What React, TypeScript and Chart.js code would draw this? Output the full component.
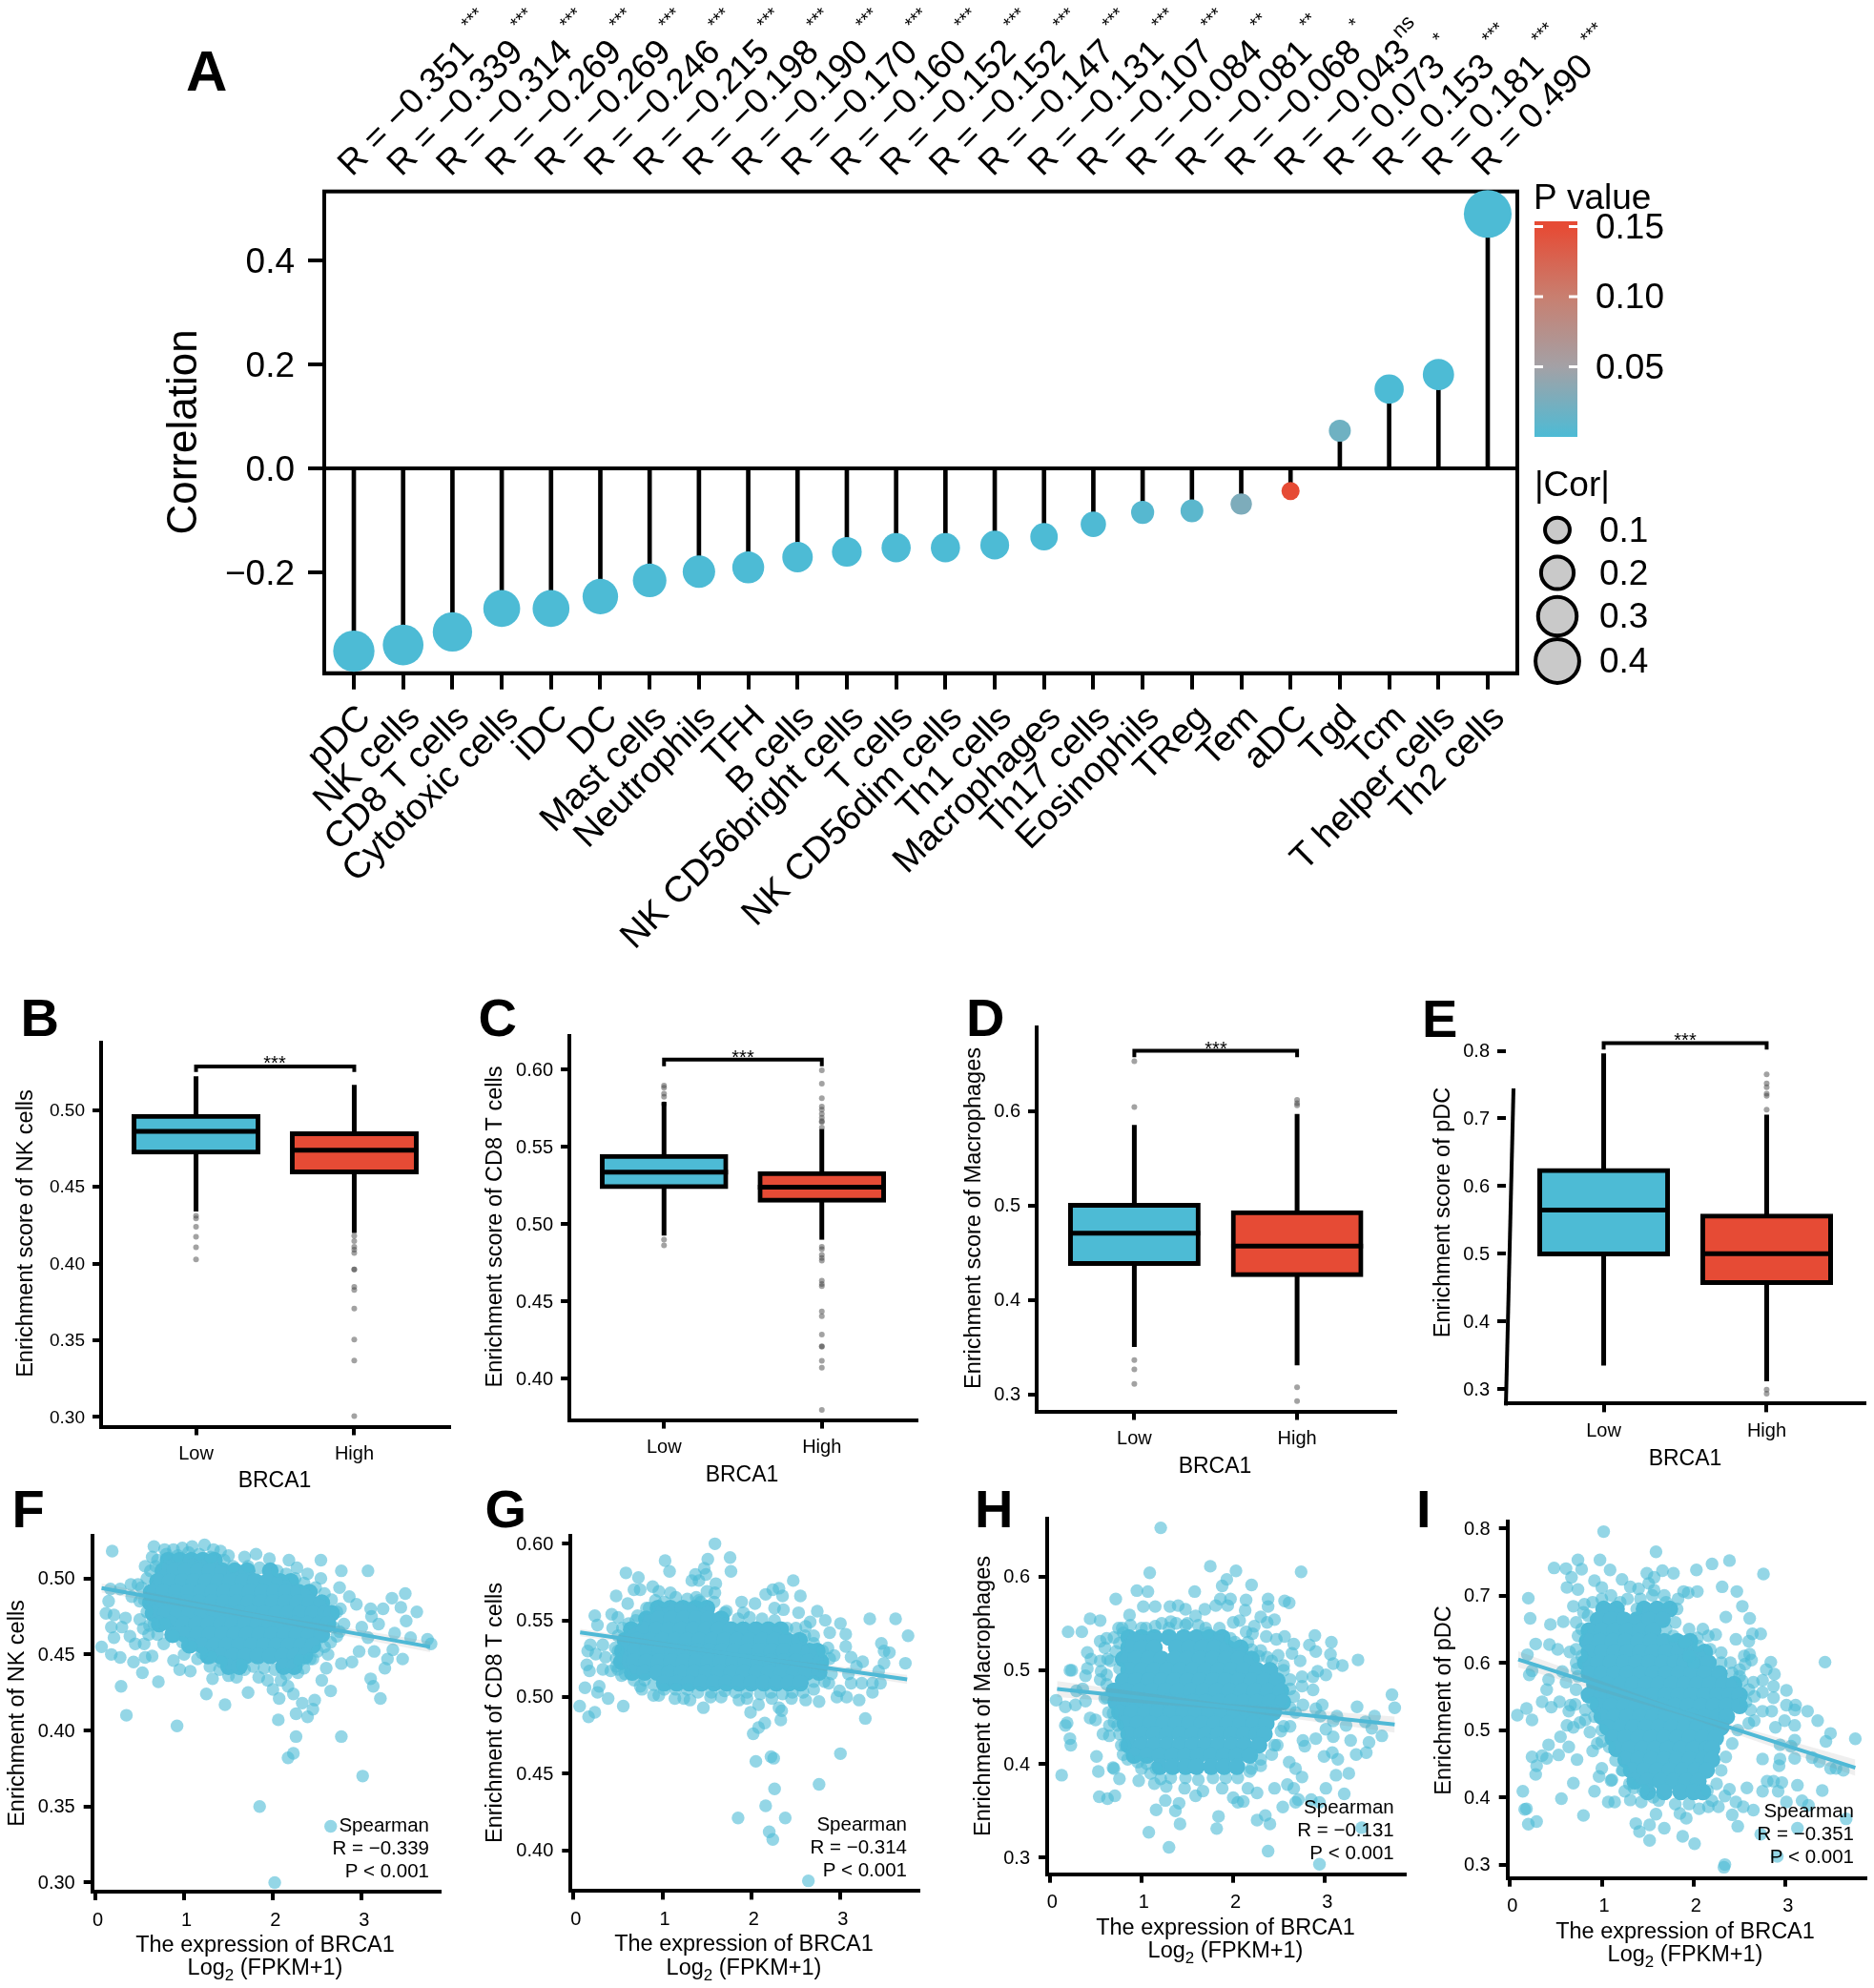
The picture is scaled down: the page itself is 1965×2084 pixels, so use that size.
import React, { useEffect, useRef } from "react";
import { Chart, registerables } from "chart.js";

Chart.register(...registerables);
Chart.defaults.font.family = '"Liberation Sans"';
Chart.defaults.color = "#000";

const BLUE = "#4DBBD5";
const RED = "#E64B35";
const CLOUD = "#4FB9D6";
const FRINGE = "rgba(77,187,213,0.6)";

// panel A
const CELLS = ["pDC", "NK cells", "CD8 T cells", "Cytotoxic cells", "iDC", "DC", "Mast cells", "Neutrophils", "TFH", "B cells", "NK CD56bright cells", "T cells", "NK CD56dim cells", "Th1 cells", "Macrophages", "Th17 cells", "Eosinophils", "TReg", "Tem", "aDC", "Tgd", "Tcm", "T helper cells", "Th2 cells"];
const CORRELATIONS = [-0.351, -0.339, -0.314, -0.269, -0.269, -0.246, -0.215, -0.198, -0.19, -0.17, -0.16, -0.152, -0.152, -0.147, -0.131, -0.107, -0.084, -0.081, -0.068, -0.043, 0.073, 0.153, 0.181, 0.49];
const SIGNIF = ["***", "***", "***", "***", "***", "***", "***", "***", "***", "***", "***", "***", "***", "***", "***", "***", "**", "**", "*", "ns", "*", "***", "***", "***"];
const P_VALUES = [0, 0, 0, 0, 0, 0, 0, 0, 0, 0, 0, 0, 0, 0, 0, 0.001, 0.005, 0.008, 0.028, 0.15, 0.02, 0, 0, 0];
const CORR_TICKS = [-0.2, 0, 0.2, 0.4];
const P_TICKS = [0.15, 0.1, 0.05];
const COR_SIZES = [0.1, 0.2, 0.3, 0.4];

// box plots: low whisker, q1, median, q3, high whisker
const GROUPS = ["Low", "High"];
const NK_LOW = [0.4339, 0.4713, 0.4862, 0.4973, 0.5221];
const NK_HIGH = [0.4199, 0.4584, 0.4738, 0.486, 0.5165];
const NK_LOW_OUT = [0.4312, 0.4294, 0.424, 0.4174, 0.4106, 0.4027];
const NK_HIGH_OUT = [0.4181, 0.4147, 0.4109, 0.409, 0.4068, 0.3962, 0.3962, 0.3848, 0.3828, 0.3706, 0.3505, 0.3367, 0.3005];
const CD8_LOW = [0.4925, 0.5228, 0.5336, 0.5451, 0.579];
const CD8_HIGH = [0.4898, 0.514, 0.5238, 0.534, 0.5614];
const CD8_LOW_OUT = [0.5896, 0.5881, 0.5843, 0.5823, 0.5775, 0.4898, 0.4862];
const CD8_HIGH_OUT = [0.5994, 0.5908, 0.5814, 0.576, 0.5739, 0.5712, 0.5687, 0.5666, 0.566, 0.5624, 0.4852, 0.4837, 0.48, 0.4779, 0.4762, 0.4633, 0.4612, 0.4597, 0.4434, 0.4403, 0.4284, 0.4209, 0.4205, 0.4115, 0.4069, 0.3797];
const MAC_LOW = [0.3502, 0.4363, 0.4705, 0.5023, 0.5853];
const MAC_HIGH = [0.3307, 0.4244, 0.4568, 0.4944, 0.5969];
const MAC_LOW_OUT = [0.6526, 0.6041, 0.3362, 0.3263, 0.3109];
const MAC_HIGH_OUT = [0.6116, 0.6082, 0.6058, 0.3075, 0.2928];
const PDC_LOW = [0.3352, 0.4971, 0.5648, 0.6262, 0.7962];
const PDC_HIGH = [0.3119, 0.4548, 0.5005, 0.559, 0.7057];
const PDC_LOW_OUT: number[] = [];
const PDC_HIGH_OUT = [0.7652, 0.7519, 0.7462, 0.7367, 0.7333, 0.7129, 0.2995, 0.2938];

// scatter clouds: the solid middle read as rows [y, xs], the separate points around it as [x, y]
const EXPR_TICKS = [0, 1, 2, 3];
const NK_CORE: [number, number[]][] = [
  [0.512, [0.82, 0.95, 1.08, 1.21, 1.34]],
  [0.505, [0.76, 0.89, 1.02, 1.16, 1.29, 1.43, 1.57, 1.71, 1.97]],
  [0.498, [0.7, 0.84, 0.98, 1.11, 1.25, 1.39, 1.52, 1.66, 1.8, 1.94, 2.08, 2.2]],
  [0.491, [0.63, 0.77, 0.91, 1.05, 1.19, 1.32, 1.46, 1.6, 1.74, 1.88, 2.02, 2.15, 2.29, 2.41]],
  [0.484, [0.62, 0.76, 0.9, 1.03, 1.17, 1.31, 1.45, 1.59, 1.73, 1.86, 2.0, 2.14, 2.28, 2.42, 2.55]],
  [0.477, [0.65, 0.79, 0.93, 1.06, 1.2, 1.34, 1.48, 1.62, 1.76, 1.9, 2.04, 2.17, 2.31, 2.45, 2.59, 2.66]],
  [0.47, [0.72, 0.86, 1.0, 1.14, 1.28, 1.42, 1.55, 1.69, 1.83, 1.97, 2.11, 2.25, 2.39, 2.52, 2.62]],
  [0.463, [0.87, 1.01, 1.15, 1.29, 1.43, 1.57, 1.71, 1.85, 1.99, 2.13, 2.27, 2.41, 2.55]],
  [0.456, [1.06, 1.2, 1.34, 1.48, 1.62, 1.76, 1.9, 2.04, 2.18, 2.32, 2.45]],
  [0.449, [1.27, 1.41, 1.55, 1.69, 1.83, 1.97, 2.11, 2.25, 2.36]],
  [0.442, [1.5, 1.62, 2.12, 2.24]],
];
const NK_POINTS: [number, number][] = [[0.19,0.518],[0.66,0.521],[1.09,0.521],[1.23,0.522],[0.78,0.519],[0.88,0.519],[0.98,0.52],[1.33,0.519],[1.41,0.518],[1.5,0.515],[1.68,0.514],[1.81,0.516],[1.96,0.513],[2.18,0.512],[2.27,0.507],[2.39,0.503],[2.54,0.512],[2.77,0.505],[3.07,0.505],[2.54,0.5],[2.75,0.494],[2.86,0.488],[2.94,0.483],[3.24,0.48],[3.34,0.487],[3.49,0.49],[3.44,0.481],[3.62,0.478],[3.5,0.472],[3.1,0.48],[3.11,0.475],[3.19,0.47],[3.37,0.464],[3.55,0.461],[3.74,0.46],[3.78,0.457],[3.0,0.468],[3.07,0.461],[3.14,0.452],[2.97,0.452],[2.89,0.445],[2.77,0.444],[3.35,0.453],[3.46,0.447],[3.29,0.447],[3.26,0.441],[3.1,0.434],[3.13,0.429],[3.21,0.421],[2.65,0.426],[2.55,0.433],[2.6,0.441],[2.47,0.42],[2.45,0.414],[2.39,0.409],[2.33,0.418],[2.26,0.411],[2.06,0.407],[2.26,0.396],[2.77,0.396],[2.23,0.385],[2.17,0.382],[3.01,0.37],[1.85,0.35],[2.02,0.3],[2.65,0.337],[0.07,0.455],[0.18,0.45],[0.28,0.448],[0.43,0.445],[0.53,0.438],[0.71,0.432],[0.29,0.429],[0.35,0.41],[0.92,0.403],[1.25,0.424],[1.46,0.417],[1.72,0.425],[0.88,0.446],[0.95,0.44],[1.07,0.439],[1.29,0.442],[1.32,0.434],[1.59,0.435],[1.84,0.435],[1.94,0.433],[2.0,0.427],[2.07,0.421],[2.23,0.424],[2.17,0.429],[2.09,0.433],[0.12,0.477],[0.15,0.485],[0.17,0.493],[0.28,0.493],[0.4,0.496],[0.48,0.496],[0.41,0.488],[0.21,0.476],[0.34,0.474],[0.3,0.468],[0.18,0.468],[0.21,0.461],[0.39,0.462],[0.45,0.457],[0.55,0.457],[0.64,0.449],[0.56,0.448],[0.77,0.457],[0.7,0.463],[0.5,0.473],[0.54,0.467],[0.61,0.469],[0.56,0.508],[0.64,0.514],[1.0,0.45],[1.15,0.447],[1.4,0.44],[1.5,0.436],[1.68,0.44],[2.3,0.446],[2.45,0.447],[2.62,0.45],[2.72,0.462],[2.8,0.47],[2.76,0.48],
  [0.7,0.512],[0.8,0.516],[0.93,0.515],[1.05,0.517],[1.17,0.516],[1.3,0.514],[1.45,0.512],[1.55,0.508],[1.72,0.508],[1.85,0.507],[2.05,0.505],[2.15,0.503],[2.25,0.5],[2.35,0.497],[2.48,0.494],[2.58,0.49],[2.66,0.486],[2.72,0.478],[2.68,0.468],[2.75,0.465],[2.65,0.458],[2.58,0.455],[2.5,0.452],[2.42,0.447],[2.35,0.441],[2.28,0.438],[2.15,0.437],[2.02,0.44],[1.9,0.441],[1.78,0.442],[1.65,0.443],[1.42,0.445],[1.3,0.448],[1.2,0.451],[1.08,0.455],[0.98,0.458],[0.88,0.462],[0.78,0.47],[0.66,0.47],[0.58,0.478],[0.55,0.486],[0.52,0.494],[0.58,0.5],[0.62,0.505],[0.68,0.508],[0.5,0.485],[0.6,0.463]];
const NK_FIT: [number, number][] = [[0.07, 0.4936], [3.77, 0.455]];
const NK_BAND: [number, number, number][] = [[0.07, 0.4966, 0.4906], [1.9, 0.4763, 0.4725], [3.77, 0.4585, 0.4515]];

const CD8_CORE: [number, number[]][] = [
  [0.558, [0.95, 1.09, 1.23, 1.37, 1.5]],
  [0.551, [0.82, 0.96, 1.1, 1.24, 1.38, 1.52, 1.66]],
  [0.544, [0.65, 0.79, 0.93, 1.07, 1.21, 1.35, 1.49, 1.63, 1.77, 1.91, 2.05, 2.19, 2.33]],
  [0.537, [0.58, 0.72, 0.86, 1.0, 1.14, 1.28, 1.42, 1.56, 1.7, 1.84, 1.98, 2.12, 2.26, 2.4, 2.54]],
  [0.53, [0.55, 0.69, 0.83, 0.97, 1.11, 1.25, 1.39, 1.53, 1.67, 1.81, 1.95, 2.09, 2.23, 2.37, 2.51, 2.65, 2.74]],
  [0.523, [0.54, 0.68, 0.82, 0.96, 1.1, 1.24, 1.38, 1.52, 1.66, 1.8, 1.94, 2.08, 2.22, 2.36, 2.5, 2.64, 2.78]],
  [0.516, [0.66, 0.8, 0.94, 1.08, 1.22, 1.36, 1.5, 1.64, 1.78, 1.92, 2.06, 2.2, 2.34, 2.48, 2.62, 2.76]],
  [0.509, [1.02, 1.16, 1.3, 1.44, 1.58, 1.72, 1.86, 2.0, 2.14, 2.28, 2.42, 2.55]],
];
const CD8_POINTS: [number, number][] = [[1.59,0.6],[1.76,0.591],[1.77,0.582],[1.03,0.589],[1.08,0.582],[0.59,0.581],[0.73,0.578],[1.51,0.59],[1.47,0.584],[1.37,0.58],[1.49,0.58],[1.33,0.576],[1.41,0.576],[1.6,0.574],[1.5,0.569],[1.59,0.568],[0.89,0.572],[0.68,0.57],[0.75,0.57],[0.48,0.566],[0.96,0.569],[1.09,0.568],[1.38,0.565],[1.41,0.563],[0.61,0.561],[2.47,0.576],[2.55,0.566],[2.16,0.567],[2.24,0.57],[2.31,0.571],[2.35,0.566],[1.89,0.562],[2.04,0.561],[1.91,0.555],[2.26,0.558],[2.36,0.557],[2.53,0.555],[2.74,0.556],[2.83,0.55],[2.66,0.549],[2.61,0.546],[2.88,0.542],[3.0,0.548],[3.06,0.541],[3.06,0.533],[3.33,0.551],[3.62,0.551],[3.76,0.54],[3.46,0.535],[3.49,0.53],[3.55,0.529],[3.49,0.522],[3.73,0.522],[3.43,0.517],[3.25,0.523],[3.12,0.526],[3.18,0.52],[3.09,0.515],[3.24,0.509],[3.36,0.509],[3.45,0.509],[3.36,0.503],[3.12,0.509],[2.99,0.504],[2.96,0.5],[3.07,0.5],[3.21,0.498],[3.28,0.486],[2.76,0.497],[2.61,0.498],[2.45,0.499],[2.87,0.509],[2.93,0.527],[2.86,0.532],[0.24,0.553],[0.27,0.547],[0.43,0.554],[0.44,0.545],[0.5,0.552],[0.19,0.534],[0.15,0.521],[0.18,0.517],[0.16,0.53],[0.33,0.534],[0.36,0.526],[0.25,0.528],[0.33,0.518],[0.42,0.517],[0.13,0.506],[0.29,0.507],[0.27,0.503],[0.39,0.499],[0.07,0.494],[0.17,0.487],[0.24,0.49],[0.56,0.494],[0.54,0.514],[0.75,0.507],[0.77,0.505],[0.9,0.501],[0.96,0.501],[1.14,0.499],[1.24,0.499],[1.31,0.498],[1.46,0.493],[1.54,0.5],[1.66,0.5],[1.86,0.498],[1.95,0.499],[2.08,0.495],[1.99,0.49],[2.23,0.499],[2.31,0.493],[2.34,0.491],[2.33,0.485],[2.15,0.483],[2.08,0.48],[2.02,0.476],[2.05,0.458],[2.22,0.461],[2.25,0.46],[3.0,0.463],[2.76,0.443],[2.26,0.44],[2.16,0.429],[2.38,0.421],[1.85,0.421],[2.2,0.412],[2.24,0.407],[2.64,0.38],[0.7,0.55],[0.85,0.558],[0.5,0.53],[0.48,0.52],[1.7,0.555],[2.7,0.54],[2.8,0.52],[2.7,0.51],
  [0.62,0.548],[0.72,0.553],[0.82,0.558],[0.92,0.563],[1.02,0.562],[1.15,0.565],[1.28,0.564],[1.43,0.562],[1.58,0.562],[1.72,0.556],[1.85,0.551],[1.98,0.552],[2.12,0.551],[2.26,0.55],[2.4,0.545],[2.5,0.545],[2.6,0.54],[2.7,0.535],[2.8,0.53],[2.88,0.525],[2.9,0.515],[2.82,0.51],[2.7,0.505],[2.58,0.503],[2.46,0.503],[2.35,0.502],[2.22,0.503],[2.1,0.502],[1.95,0.503],[1.82,0.503],[1.7,0.504],[1.55,0.503],[1.4,0.503],[1.28,0.505],[1.15,0.505],[1.02,0.505],[0.9,0.508],[0.8,0.511],[0.68,0.511],[0.58,0.515],[0.5,0.518],[0.48,0.525],[0.47,0.532],[0.5,0.54],[0.55,0.545]];
const CD8_FIT: [number, number][] = [[0.075, 0.5421], [3.75, 0.5115]];
const CD8_BAND: [number, number, number][] = [[0.075, 0.5445, 0.5397], [1.9, 0.5278, 0.5258], [3.75, 0.5145, 0.5085]];

const MAC_CORE: [number, number[]][] = [
  [0.535, [0.86, 1.0, 1.14, 1.3, 1.46, 1.6, 1.74, 1.88]],
  [0.524, [0.86, 1.0, 1.14, 1.38, 1.52, 1.66, 1.8, 1.94, 2.08]],
  [0.512, [0.8, 0.94, 1.08, 1.22, 1.36, 1.5, 1.64, 1.78, 1.92, 2.06, 2.2]],
  [0.5, [0.86, 1.0, 1.14, 1.28, 1.42, 1.56, 1.7, 1.84, 1.98, 2.12, 2.26, 2.4]],
  [0.489, [0.8, 0.94, 1.08, 1.22, 1.36, 1.5, 1.64, 1.78, 1.92, 2.06, 2.2, 2.34, 2.48]],
  [0.478, [0.7, 0.84, 0.98, 1.12, 1.26, 1.4, 1.54, 1.68, 1.82, 1.96, 2.1, 2.24, 2.38, 2.52]],
  [0.466, [0.72, 0.86, 1.0, 1.14, 1.28, 1.42, 1.56, 1.7, 1.84, 1.98, 2.12, 2.26, 2.4, 2.54]],
  [0.455, [0.76, 0.9, 1.04, 1.18, 1.32, 1.46, 1.6, 1.74, 1.88, 2.02, 2.16, 2.3, 2.44]],
  [0.443, [0.82, 0.96, 1.1, 1.24, 1.38, 1.52, 1.66, 1.8, 1.94, 2.08, 2.22, 2.36]],
  [0.432, [0.86, 1.0, 1.14, 1.28, 1.42, 1.56, 1.7, 1.84, 1.98, 2.12, 2.26, 2.34]],
  [0.42, [0.86, 1.0, 1.14, 1.28, 1.42, 1.56, 1.7, 1.84, 1.98, 2.12, 2.28]],
  [0.409, [0.92, 1.06, 1.2, 1.34, 1.48, 1.62, 1.76, 1.9, 2.04, 2.18]],
  [0.397, [1.2, 1.34, 1.48, 1.6, 1.76, 1.9, 2.04]],
];
const MAC_POINTS: [number, number][] = [[1.21,0.652],[1.75,0.611],[2.03,0.606],[2.74,0.605],[1.09,0.604],[1.93,0.597],[1.88,0.59],[2.2,0.591],[0.95,0.585],[1.07,0.584],[1.58,0.584],[0.72,0.576],[1.86,0.576],[1.97,0.576],[2.14,0.575],[2.38,0.576],[2.56,0.574],[2.61,0.572],[2.38,0.568],[1.94,0.569],[1.81,0.569],[1.69,0.565],[2.13,0.564],[1.02,0.568],[1.15,0.568],[1.31,0.568],[1.4,0.569],[1.48,0.565],[1.59,0.558],[0.87,0.559],[0.44,0.555],[0.55,0.553],[0.2,0.541],[0.35,0.541],[2.3,0.557],[2.45,0.554],[2.37,0.551],[2.0,0.551],[2.07,0.553],[2.23,0.547],[2.14,0.541],[2.21,0.539],[1.97,0.534],[2.36,0.536],[2.47,0.533],[2.56,0.536],[2.66,0.528],[2.89,0.537],[3.07,0.53],[2.83,0.527],[2.9,0.52],[3.06,0.517],[3.36,0.511],[3.09,0.507],[3.19,0.505],[2.73,0.51],[2.64,0.518],[2.49,0.516],[2.37,0.514],[2.3,0.521],[2.2,0.522],[2.92,0.499],[3.01,0.495],[2.87,0.493],[2.75,0.493],[2.87,0.479],[2.75,0.483],[2.76,0.463],[2.97,0.463],[2.9,0.459],[3.13,0.451],[2.95,0.451],[3.35,0.461],[3.54,0.451],[3.73,0.474],[3.76,0.46],[3.44,0.445],[3.51,0.438],[3.23,0.441],[3.09,0.446],[3.01,0.437],[3.09,0.429],[3.28,0.425],[3.48,0.423],[3.62,0.43],[3.34,0.41],[3.45,0.412],[2.99,0.408],[3.08,0.412],[3.14,0.405],[3.26,0.39],[3.12,0.388],[3.01,0.374],[3.21,0.368],[2.76,0.425],[2.78,0.419],[2.9,0.427],[2.75,0.386],[2.68,0.395],[2.61,0.402],[2.59,0.378],[2.66,0.374],[2.54,0.354],[2.71,0.362],[2.68,0.359],[2.94,0.359],[2.85,0.362],[2.45,0.374],[2.26,0.369],[2.16,0.374],[2.0,0.364],[2.05,0.359],[2.11,0.36],[2.26,0.34],[2.35,0.345],[2.4,0.336],[2.38,0.307],[2.94,0.293],[3.4,0.332],[1.84,0.344],[1.82,0.331],[1.42,0.336],[1.37,0.35],[1.41,0.358],[1.26,0.361],[1.16,0.351],[1.08,0.327],[1.3,0.311],[0.54,0.365],[0.63,0.363],[0.71,0.366],[0.13,0.388],[0.53,0.392],[0.51,0.408],[0.7,0.395],[0.69,0.396],[0.76,0.384],[0.97,0.382],[1.47,0.374],[1.59,0.366],[1.67,0.371],[1.21,0.384],[1.14,0.379],[1.27,0.376],[1.88,0.374],[0.23,0.42],[0.22,0.427],[0.17,0.441],[0.19,0.444],[0.07,0.468],[0.17,0.461],[0.28,0.463],[0.39,0.467],[0.44,0.449],[0.5,0.447],[0.58,0.432],[0.65,0.43],[0.29,0.478],[0.36,0.48],[0.39,0.494],[0.24,0.5],[0.22,0.5],[0.41,0.519],[0.45,0.512],[0.41,0.502],[0.56,0.499],[0.55,0.531],[0.62,0.534],[0.6,0.524],[0.63,0.512],[0.76,0.529],[0.79,0.545],[0.76,0.502],[0.62,0.485],[0.62,0.471],[0.69,0.454],[0.65,0.441],[0.74,0.441],[0.82,0.42],[0.8,0.41],[1.0,0.395],[1.1,0.39],[2.2,0.395],[2.3,0.405],[2.45,0.42],[2.55,0.44],[2.62,0.46],[2.62,0.48],[2.55,0.5],[1.05,0.545],[1.3,0.545],[1.5,0.55],[1.7,0.545],
  [0.75,0.545],[0.88,0.548],[1.0,0.545],[1.15,0.547],[1.22,0.55],[1.32,0.552],[1.38,0.55],[1.48,0.548],[1.62,0.548],[1.72,0.54],[1.85,0.545],[2.02,0.53],[2.16,0.53],[2.28,0.515],[2.42,0.51],[2.55,0.505],[2.62,0.49],[2.66,0.472],[2.68,0.455],[2.62,0.44],[2.52,0.435],[2.48,0.42],[2.42,0.41],[2.3,0.398],[2.18,0.392],[2.05,0.385],[1.92,0.385],[1.78,0.385],[1.62,0.383],[1.48,0.385],[1.32,0.385],[1.16,0.395],[1.06,0.4],[0.96,0.402],[0.85,0.405],[0.78,0.42],[0.76,0.432],[0.7,0.445],[0.64,0.455],[0.6,0.47],[0.62,0.495],[0.66,0.51],[0.72,0.52],[0.7,0.535],[0.55,0.51],[0.55,0.49],[0.8,0.54]];
const MAC_FIT: [number, number][] = [[0.08, 0.48], [3.76, 0.442]];
const MAC_BAND: [number, number, number][] = [[0.08, 0.4885, 0.4715], [1.9, 0.4645, 0.4585], [3.76, 0.4505, 0.4335]];

const PDC_CORE: [number, number[]][] = [
  [0.68, [1.02, 1.16, 1.46, 1.6, 1.74]],
  [0.664, [0.96, 1.1, 1.24, 1.38, 1.52, 1.66]],
  [0.648, [0.86, 1.0, 1.14, 1.28, 1.42, 1.56]],
  [0.632, [0.84, 0.98, 1.12, 1.26, 1.4, 1.54, 1.68, 1.82, 1.96]],
  [0.616, [0.86, 1.0, 1.14, 1.28, 1.42, 1.56, 1.7, 1.84, 1.98, 2.12]],
  [0.6, [0.82, 0.96, 1.1, 1.24, 1.38, 1.52, 1.66, 1.8, 1.9, 2.02, 2.16]],
  [0.584, [0.86, 1.0, 1.14, 1.28, 1.42, 1.56, 1.7, 1.84, 1.98, 2.12, 2.28]],
  [0.568, [0.92, 1.06, 1.2, 1.34, 1.48, 1.62, 1.76, 1.9, 2.04, 2.18, 2.32, 2.44]],
  [0.552, [0.86, 1.0, 1.14, 1.28, 1.42, 1.56, 1.7, 1.84, 1.98, 2.12, 2.26, 2.4, 2.5]],
  [0.536, [0.96, 1.1, 1.24, 1.38, 1.52, 1.66, 1.8, 1.94, 2.08, 2.22, 2.36, 2.5]],
  [0.52, [1.0, 1.14, 1.28, 1.42, 1.56, 1.7, 1.84, 1.98, 2.12, 2.26, 2.36]],
  [0.504, [1.06, 1.2, 1.34, 1.48, 1.62, 1.76, 1.9, 2.04, 2.18, 2.3]],
  [0.488, [1.12, 1.26, 1.4, 1.54, 1.68, 1.82, 1.96, 2.1, 2.24]],
  [0.472, [1.16, 1.3, 1.44, 1.58, 1.72, 1.86, 2.0, 2.14, 2.2]],
  [0.456, [1.26, 1.4, 1.54, 1.68, 1.82, 1.96, 2.1, 2.2]],
  [0.44, [1.32, 1.46, 1.6, 1.74, 1.88, 2.02, 2.14]],
  [0.424, [1.36, 1.5, 1.64, 1.78, 1.92, 2.05]],
  [0.408, [1.5, 1.68, 1.86, 2.0, 2.1]],
];
const PDC_POINTS: [number, number][] = [[1.02,0.795],[1.59,0.765],[0.74,0.753],[0.98,0.753],[0.48,0.741],[0.61,0.74],[0.78,0.739],[1.09,0.738],[2.2,0.747],[2.39,0.752],[2.03,0.738],[2.76,0.732],[1.49,0.733],[1.66,0.737],[1.78,0.733],[1.57,0.727],[0.67,0.727],[1.22,0.724],[0.92,0.722],[0.62,0.712],[0.74,0.709],[1.0,0.712],[1.51,0.718],[1.31,0.713],[1.4,0.71],[2.31,0.713],[2.47,0.706],[2.04,0.706],[1.89,0.706],[1.94,0.704],[1.83,0.695],[1.57,0.708],[0.2,0.696],[0.22,0.666],[2.53,0.684],[2.61,0.666],[2.35,0.668],[0.69,0.684],[0.81,0.687],[0.44,0.657],[0.58,0.661],[0.28,0.628],[0.43,0.627],[0.52,0.62],[0.65,0.616],[0.19,0.612],[2.73,0.643],[2.64,0.643],[2.6,0.632],[2.46,0.635],[2.24,0.642],[2.16,0.64],[2.04,0.637],[2.61,0.613],[2.63,0.604],[2.56,0.598],[3.43,0.601],[2.84,0.601],[2.79,0.59],[2.88,0.583],[2.42,0.585],[2.75,0.574],[2.53,0.573],[2.87,0.565],[3.01,0.559],[2.87,0.548],[2.65,0.571],[2.75,0.556],[2.57,0.542],[3.01,0.537],[3.11,0.537],[3.24,0.528],[3.35,0.514],[3.1,0.53],[2.85,0.528],[2.75,0.528],[2.99,0.514],[3.1,0.507],[2.89,0.504],[2.66,0.514],[3.49,0.495],[3.44,0.483],[3.76,0.487],[3.1,0.485],[2.94,0.478],[3.06,0.476],[3.1,0.458],[2.94,0.457],[2.93,0.447],[2.75,0.457],[3.29,0.459],[3.37,0.453],[3.49,0.443],[3.63,0.44],[3.55,0.443],[2.8,0.424],[2.87,0.424],[2.96,0.422],[3.13,0.418],[3.4,0.41],[2.75,0.409],[2.92,0.409],[3.18,0.395],[3.25,0.388],[3.01,0.393],[3.66,0.368],[3.13,0.354],[2.73,0.345],[2.91,0.312],[2.33,0.296],[2.34,0.3],[2.48,0.357],[2.42,0.374],[2.46,0.393],[2.58,0.414],[2.54,0.386],[2.65,0.381],[2.34,0.402],[2.39,0.412],[2.27,0.386],[2.06,0.383],[2.16,0.386],[2.01,0.331],[1.88,0.342],[1.68,0.354],[1.59,0.375],[1.52,0.359],[1.52,0.336],[1.41,0.349],[1.37,0.361],[1.92,0.369],[1.85,0.376],[1.14,0.393],[1.07,0.393],[1.31,0.396],[1.43,0.393],[1.56,0.4],[1.25,0.409],[1.35,0.414],[1.11,0.426],[0.92,0.409],[0.69,0.421],[0.56,0.398],[0.8,0.373],[0.97,0.431],[1.0,0.443],[1.23,0.44],[0.14,0.409],[0.18,0.383],[0.16,0.382],[0.29,0.364],[0.2,0.36],[0.28,0.434],[0.29,0.447],[0.24,0.46],[0.35,0.462],[0.4,0.458],[0.53,0.463],[0.64,0.475],[0.42,0.478],[0.55,0.49],[0.73,0.456],[0.9,0.469],[0.69,0.504],[0.62,0.507],[0.76,0.511],[0.87,0.497],[1.0,0.483],[0.08,0.522],[0.18,0.532],[0.24,0.515],[0.35,0.542],[0.45,0.534],[0.54,0.542],[0.64,0.528],[0.66,0.537],[0.71,0.538],[0.42,0.575],[0.4,0.56],[0.24,0.588],[0.21,0.582],[0.61,0.571],[0.73,0.591],[0.57,0.587],[0.72,0.62],[0.78,0.65],[0.85,0.67],[1.0,0.695],[1.2,0.69],[1.42,0.695],[1.7,0.69],[1.8,0.66],[1.95,0.65],[2.0,0.6],[2.3,0.6],[2.5,0.58],
  [0.72,0.66],[0.8,0.675],[0.9,0.69],[1.1,0.7],[1.28,0.695],[1.38,0.68],[1.55,0.7],[1.68,0.7],[1.82,0.68],[1.78,0.64],[1.7,0.65],[1.9,0.63],[2.05,0.625],[2.18,0.62],[2.3,0.615],[2.4,0.6],[2.5,0.59],[2.6,0.56],[2.66,0.55],[2.62,0.53],[2.6,0.51],[2.48,0.5],[2.42,0.48],[2.35,0.46],[2.3,0.44],[2.25,0.42],[2.15,0.41],[2.2,0.395],[1.95,0.39],[1.8,0.39],[1.62,0.395],[1.45,0.41],[1.3,0.42],[1.22,0.44],[1.15,0.455],[1.08,0.475],[1.0,0.5],[0.92,0.52],[0.82,0.53],[0.72,0.56],[0.74,0.58],[0.72,0.6],[0.74,0.64],[0.78,0.61],[1.1,0.425],[0.95,0.48],[0.82,0.515],[0.9,0.54],[2.1,0.65],[1.95,0.61],[2.55,0.61]];
const PDC_FIT: [number, number][] = [[0.09, 0.605], [3.76, 0.444]];
const PDC_BAND: [number, number, number][] = [[0.09, 0.617, 0.593], [1.9, 0.5285, 0.5205], [3.76, 0.456, 0.432]];

const NK_TICKS = [0.3, 0.35, 0.4, 0.45, 0.5];
const CD8_TICKS = [0.4, 0.45, 0.5, 0.55, 0.6];
const MAC_TICKS = [0.3, 0.4, 0.5, 0.6];
const PDC_TICKS = [0.3, 0.4, 0.5, 0.6, 0.7, 0.8];

type Rect = { x: number; y: number; w: number; h: number };
type Plot = { l: number; t: number; r: number; b: number };
type Label = { t: string; x: number; y: number; size: number; rot?: number; align?: CanvasTextAlign };

const put = (ctx: CanvasRenderingContext2D, l: Label) => {
  ctx.save();
  // "middle" sits a little high for digits and capitals
  if (l.rot) {
    ctx.translate(l.x + l.size * 0.1, l.y);
    ctx.rotate(l.rot);
  } else {
    ctx.translate(l.x, l.y + l.size * 0.06);
  }
  ctx.font = `${l.size}px "Liberation Sans"`;
  ctx.fillStyle = "#000";
  ctx.textAlign = l.align ?? "center";
  ctx.textBaseline = "middle";
  ctx.fillText(l.t, 0, 0);
  ctx.restore();
};

const stars = (x: number, y: number, size = 20): Label => ({ t: "***", x, y: y + size * 0.24, size });

// "Log2 (FPKM+1)" with the 2 set as a subscript
const putLog2 = (ctx: CanvasRenderingContext2D, cx: number, y: number, size: number) => {
  ctx.save();
  ctx.fillStyle = "#000";
  ctx.textBaseline = "middle";
  ctx.textAlign = "left";
  ctx.font = `${size}px "Liberation Sans"`;
  const a = ctx.measureText("Log").width;
  const c = ctx.measureText(" (FPKM+1)").width;
  const sub = size * 0.72;
  ctx.font = `${sub}px "Liberation Sans"`;
  const b = ctx.measureText("2").width;
  const x0 = cx - (a + b + c) / 2;
  ctx.fillText("2", x0 + a, y + size * 0.32);
  ctx.font = `${size}px "Liberation Sans"`;
  ctx.fillText("Log", x0, y);
  ctx.fillText(" (FPKM+1)", x0 + a + b, y);
  ctx.restore();
};

const hex = (h: string) => [1, 3, 5].map((i) => parseInt(h.slice(i, i + 2), 16));
const P_STOPS: [number, string][] = [[0, "#4DBBD5"], [0.05, "#A3A1A6"], [0.1, "#C87F70"], [0.15, "#E64B35"]];
const pColor = (p: number) => {
  for (let i = 1; i < P_STOPS.length; i++) {
    if (p <= P_STOPS[i][0]) {
      const t = (p - P_STOPS[i - 1][0]) / (P_STOPS[i][0] - P_STOPS[i - 1][0]);
      const a = hex(P_STOPS[i - 1][1]);
      const b = hex(P_STOPS[i][1]);
      return `rgb(${a.map((v, k) => Math.round(v + (b[k] - v) * t)).join(",")})`;
    }
  }
  return RED;
};
const corRadius = (c: number) => 3 + 31.5 * Math.sqrt(Math.abs(c));

// fixes the plot area to page coordinates whatever the labels measure
const frame = (rect: Rect, plot: Plot) => ({
  padding: { top: plot.t - rect.y, right: rect.x + rect.w - plot.r, left: 0, bottom: 0 },
  fitY: (s: any) => {
    s.width = plot.l - rect.x;
    s.paddingTop = 0;
    s.paddingBottom = 0;
  },
  fitX: (s: any) => {
    s.height = rect.y + rect.h - plot.b;
    s.paddingLeft = 0;
    s.paddingRight = 0;
  },
});

const useTicks = (values: number[]) => (s: any) => {
  s.ticks = values.map((value) => ({ value }));
};

const pagePlugin = (rect: Rect, labels: Label[], extra?: (ctx: CanvasRenderingContext2D, chart: any) => void) => ({
  id: "pageLabels",
  afterDraw(chart: any) {
    const ctx = chart.ctx;
    ctx.save();
    ctx.translate(-rect.x, -rect.y);
    labels.forEach((l) => put(ctx, l));
    extra?.(ctx, chart);
    ctx.restore();
  },
});

const BASE = {
  responsive: false,
  animation: false as const,
  plugins: { legend: { display: false }, tooltip: { enabled: false } },
  events: [],
};

function overviewConfig(rect: Rect, plot: Plot): any {
  const f = frame(rect, plot);
  const points = CORRELATIONS.map((y, x) => ({ x, y }));
  return {
    type: "scatter",
    data: {
      datasets: [
        {
          type: "scatter",
          data: points,
          clip: false,
          order: 1,
          pointRadius: (c: any) => corRadius(c.raw.y),
          pointBackgroundColor: (c: any) => pColor(P_VALUES[c.dataIndex]),
          pointBorderWidth: 0,
        },
        { type: "bar", data: points, backgroundColor: "#000", barThickness: 4, order: 2 },
      ],
    },
    options: {
      ...BASE,
      layout: { padding: f.padding, autoPadding: false },
      scales: {
        x: {
          type: "linear",
          min: -0.6,
          max: 23.6,
          offset: false,
          afterBuildTicks: useTicks(CELLS.map((_, i) => i)),
          afterFit: f.fitX,
          border: { color: "#000", width: 4 },
          grid: { offset: false, drawOnChartArea: false, tickLength: 17, lineWidth: 4, tickColor: "#000" },
          ticks: {
            autoSkip: false,
            minRotation: 45,
            maxRotation: 45,
            padding: 8,
            labelOffset: 12,
            font: { size: 38 },
            color: "#000",
            callback: (v: number) => CELLS[v],
          },
        },
        y: {
          min: -0.3934,
          max: 0.5332,
          afterBuildTicks: useTicks(CORR_TICKS),
          afterFit: f.fitY,
          border: { color: "#000", width: 4 },
          grid: {
            lineWidth: 4,
            tickLength: 17,
            tickColor: "#000",
            color: (c: any) => (c.tick && c.tick.value === 0 ? "#000" : "transparent"),
          },
          ticks: {
            padding: 14,
            labelOffset: 2.5,
            font: { size: 37 },
            color: "#000",
            callback: (v: number) => v.toFixed(1).replace("-", "\u2212"),
          },
        },
      },
    },
    plugins: [
      {
        id: "frameBox",
        beforeDatasetsDraw(chart: any) {
          const { ctx, chartArea: a } = chart;
          ctx.save();
          ctx.strokeStyle = "#000";
          ctx.lineWidth = 4;
          ctx.strokeRect(a.left, a.top, a.right - a.left, a.bottom - a.top);
          ctx.restore();
        },
      },
      pagePlugin(
        rect,
        [
          { t: "Correlation", x: 189, y: 453, size: 44, rot: -Math.PI / 2 },
          { t: "P value", x: 1608, y: 207, size: 37, align: "left" },
          { t: "|Cor|", x: 1609, y: 508, size: 37, align: "left" },
        ],
        (ctx, chart) => {
          // correlation and significance above each lollipop
          CORRELATIONS.forEach((v, i) => {
            const text = `R = ${v < 0 ? "\u2212" : ""}${Math.abs(v).toFixed(3)}`;
            const px = chart.scales.x.getPixelForValue(i) + rect.x - 2;
            ctx.save();
            ctx.translate(px, 186);
            ctx.rotate(-Math.PI / 4);
            ctx.fillStyle = "#000";
            ctx.textAlign = "left";
            ctx.textBaseline = "alphabetic";
            ctx.font = '37px "Liberation Sans"';
            ctx.fillText(text, 0, 0);
            const w = ctx.measureText(text).width;
            const ns = SIGNIF[i] === "ns";
            ctx.font = ns ? '22px "Liberation Sans"' : '20px "Liberation Sans"';
            ctx.fillText(SIGNIF[i], ns ? w + 2 : w + 12, ns ? -20 : -22);
            ctx.restore();
          });
          // colour bar
          const top = 232;
          const bottom = 458;
          const g = ctx.createLinearGradient(0, top, 0, bottom);
          P_STOPS.forEach(([p, col]) => g.addColorStop(1 - p / 0.154, col));
          g.addColorStop(0, RED);
          ctx.fillStyle = g;
          ctx.fillRect(1609, top, 45, bottom - top);
          P_TICKS.forEach((p) => {
            const y = 458 - (p / 0.05) * 73.5;
            ctx.fillStyle = "#fff";
            ctx.fillRect(1609, y - 1.5, 9, 3);
            ctx.fillRect(1645, y - 1.5, 9, 3);
            put(ctx, { t: p.toFixed(2), x: 1673, y, size: 37, align: "left" });
          });
          // size legend
          COR_SIZES.forEach((c, i) => {
            const y = [555.6, 600.5, 646, 693][i];
            ctx.beginPath();
            ctx.arc(1633, y, corRadius(c), 0, Math.PI * 2);
            ctx.fillStyle = "#C9C9C9";
            ctx.fill();
            ctx.lineWidth = 4;
            ctx.strokeStyle = "#000";
            ctx.stroke();
            put(ctx, { t: c.toFixed(1), x: 1677, y, size: 37, align: "left" });
          });
        }
      ),
    ],
  };
}

type BoxSpec = {
  rect: Rect;
  plot: Plot;
  low: number[];
  high: number[];
  lowOut: number[];
  highOut: number[];
  ticks: number[];
  decimals: number;
  ymin: number;
  ymax: number;
  bracket: [number, number];
  labels: Label[];
  tickSize: number;
  slanted?: boolean;
};

function boxConfig(s: BoxSpec): any {
  const f = frame(s.rect, s.plot);
  const unit = (s.plot.r - s.plot.l) / 2.2;
  const halfBox = 0.405;
  const stats = [s.low, s.high];
  const stroke = { type: "line", pointRadius: 0, borderColor: "#000", borderWidth: 5, clip: false };
  return {
    type: "scatter",
    data: {
      datasets: [
        {
          type: "scatter",
          data: [
            ...s.lowOut.map((y) => ({ x: 0, y })),
            ...s.highOut.map((y) => ({ x: 1, y })),
          ],
          pointRadius: 3,
          pointBorderWidth: 0,
          pointBackgroundColor: "rgba(70,70,70,0.5)",
          order: 5,
        },
        ...stats.map((b, x) => ({ ...stroke, data: [{ x, y: b[0] }, { x, y: b[4] }], order: 4 })),
        {
          type: "bar",
          data: stats.map((b, x) => ({ x, y: [b[1], b[3]] })),
          backgroundColor: [BLUE, RED],
          borderColor: "#000",
          borderWidth: 5,
          borderSkipped: false,
          barThickness: unit * halfBox * 2,
          order: 3,
        },
        ...stats.map((b, x) => ({
          ...stroke,
          data: [{ x: x - halfBox, y: b[2] }, { x: x + halfBox, y: b[2] }],
          order: 2,
        })),
        {
          ...stroke,
          borderWidth: 4,
          data: [
            { x: 0, y: s.bracket[0] },
            { x: 0, y: s.bracket[1] },
            { x: 1, y: s.bracket[1] },
            { x: 1, y: s.bracket[0] },
          ],
          order: 1,
        },
      ],
    },
    options: {
      ...BASE,
      layout: { padding: f.padding, autoPadding: false },
      scales: {
        x: {
          type: "linear",
          min: -0.6,
          max: 1.6,
          offset: false,
          afterBuildTicks: useTicks([0, 1]),
          afterFit: f.fitX,
          border: { color: "#000", width: 4 },
          grid: { offset: false, drawOnChartArea: false, tickLength: 9, lineWidth: 4, tickColor: "#000" },
          ticks: { maxRotation: 0, padding: 8, font: { size: 20 }, color: "#000", callback: (v: number) => GROUPS[v] },
        },
        y: {
          min: s.ymin,
          max: s.ymax,
          afterBuildTicks: useTicks(s.ticks),
          afterFit: f.fitY,
          border: { display: !s.slanted, color: "#000", width: 4 },
          grid: { drawOnChartArea: false, tickLength: 9, lineWidth: 4, tickColor: "#000" },
          ticks: { padding: 8, labelOffset: 1, font: { size: s.tickSize }, color: "#000", callback: (v: number) => v.toFixed(s.decimals) },
        },
      },
    },
    plugins: [
      pagePlugin(s.rect, s.labels, (ctx) => {
        if (!s.slanted) return;
        // this panel's y axis line leans in the source figure
        ctx.beginPath();
        ctx.moveTo(s.plot.l, s.plot.b + 2);
        ctx.lineTo(s.plot.l + 8, 1141);
        ctx.lineWidth = 4;
        ctx.strokeStyle = "#000";
        ctx.stroke();
      }),
    ],
  };
}

type ScatterSpec = {
  rect: Rect;
  plot: Plot;
  core: [number, number[]][];
  points: [number, number][];
  fit: [number, number][];
  band: [number, number, number][];
  ticks: number[];
  decimals: number;
  xmin: number;
  xmax: number;
  ymin: number;
  ymax: number;
  yTitle: Label;
  xTitleX: number;
  xTitleY: number;
  note: string;
  noteX: number;
  noteY: number;
};

function scatterConfig(s: ScatterSpec): any {
  const f = frame(s.rect, s.plot);
  const size = 23.5;
  const noteLines = ["Spearman", s.note, "P < 0.001"];
  return {
    type: "scatter",
    data: {
      datasets: [
        {
          type: "scatter",
          data: s.core.flatMap(([y, xs]) => xs.map((x) => ({ x, y }))),
          pointRadius: 8.8,
          pointBorderWidth: 0,
          pointBackgroundColor: CLOUD,
          clip: false,
          order: 5,
        },
        {
          type: "scatter",
          data: s.points.map(([x, y]) => ({ x, y })),
          pointRadius: 6.7,
          pointBorderWidth: 0,
          pointBackgroundColor: FRINGE,
          clip: false,
          order: 4,
        },
        {
          type: "line",
          data: s.band.map(([x, y]) => ({ x, y })),
          pointRadius: 0,
          borderWidth: 0,
          fill: "+1",
          backgroundColor: "rgba(130,130,130,0.13)",
          order: 3,
        },
        {
          type: "line",
          data: s.band.map(([x, , y]) => ({ x, y })),
          pointRadius: 0,
          borderWidth: 0,
          order: 3,
        },
        {
          type: "line",
          data: s.fit.map(([x, y]) => ({ x, y })),
          pointRadius: 0,
          borderWidth: 4,
          borderColor: CLOUD,
          order: 2,
        },
      ],
    },
    options: {
      ...BASE,
      layout: { padding: f.padding, autoPadding: false },
      scales: {
        x: {
          type: "linear",
          min: s.xmin,
          max: s.xmax,
          afterBuildTicks: useTicks(EXPR_TICKS),
          afterFit: f.fitX,
          border: { color: "#000", width: 4 },
          grid: { drawOnChartArea: false, tickLength: 9, lineWidth: 4, tickColor: "#000" },
          ticks: { maxRotation: 0, padding: 9, labelOffset: 2.5, font: { size: 20 }, color: "#000", callback: (v: number) => String(v) },
        },
        y: {
          min: s.ymin,
          max: s.ymax,
          afterBuildTicks: useTicks(s.ticks),
          afterFit: f.fitY,
          border: { color: "#000", width: 4 },
          grid: { drawOnChartArea: false, tickLength: 9, lineWidth: 4, tickColor: "#000" },
          ticks: { padding: 9, labelOffset: 1, font: { size: 20 }, color: "#000", callback: (v: number) => v.toFixed(s.decimals) },
        },
      },
    },
    plugins: [
      pagePlugin(
        s.rect,
        [
          s.yTitle,
          { t: "The expression of BRCA1", x: s.xTitleX, y: s.xTitleY, size },
          ...noteLines.map((t, i) => ({ t, x: s.noteX, y: s.noteY + i * 24.3, size: 20.5, align: "right" as const })),
        ],
        (ctx) => putLog2(ctx, s.xTitleX, s.xTitleY + 26, size)
      ),
    ],
  };
}

const A_RECT = { x: 150, y: 0, w: 1650, h: 1020 };
const A_PLOT = { l: 340, t: 200.7, r: 1591, b: 705.7 };

const YT = (t: string, x: number, y: number): Label => ({ t, x, y, size: 23.5, rot: -Math.PI / 2 });
const XT = (x: number, y: number): Label => ({ t: "BRCA1", x, y: y + 2.5, size: 23 });

const BOXES: BoxSpec[] = [
  {
    rect: { x: 0, y: 1085, w: 490, h: 480 },
    plot: { l: 106, t: 1092.5, r: 471, b: 1495.5 },
    low: NK_LOW, high: NK_HIGH, lowOut: NK_LOW_OUT, highOut: NK_HIGH_OUT,
    ticks: NK_TICKS, decimals: 2, ymin: 0.2937, ymax: 0.5443, bracket: [0.5249, 0.5284], tickSize: 19,
    labels: [YT("Enrichment score of NK cells", 25, 1293), XT(288, 1549), stars(288, 1109)],
  },
  {
    rect: { x: 500, y: 1070, w: 480, h: 490 },
    plot: { l: 597, t: 1085.6, r: 961, b: 1488.6 },
    low: CD8_LOW, high: CD8_HIGH, lowOut: CD8_LOW_OUT, highOut: CD8_HIGH_OUT,
    ticks: CD8_TICKS, decimals: 2, ymin: 0.3731, ymax: 0.6219, bracket: [0.6021, 0.6063], tickSize: 20,
    labels: [YT("Enrichment score of CD8 T cells", 517, 1286), XT(778, 1543), stars(779, 1103)],
  },
  {
    rect: { x: 1000, y: 1060, w: 480, h: 490 },
    plot: { l: 1087, t: 1076.5, r: 1462.5, b: 1479.5 },
    low: MAC_LOW, high: MAC_HIGH, lowOut: MAC_LOW_OUT, highOut: MAC_HIGH_OUT,
    ticks: MAC_TICKS, decimals: 1, ymin: 0.2819, ymax: 0.689, bracket: [0.657, 0.6638], tickSize: 20,
    labels: [YT("Enrichment score of Macrophages", 1019, 1277), XT(1274, 1533.6), stars(1275, 1094)],
  },
  {
    rect: { x: 1490, y: 1060, w: 475, h: 490 },
    plot: { l: 1579, t: 1090, r: 1955, b: 1471.4 },
    low: PDC_LOW, high: PDC_HIGH, lowOut: PDC_LOW_OUT, highOut: PDC_HIGH_OUT,
    ticks: PDC_TICKS, decimals: 1, ymin: 0.279, ymax: 0.8162, bracket: [0.8019, 0.8114], tickSize: 20, slanted: true,
    labels: [YT("Enrichment score of pDC", 1510.7, 1271), XT(1767, 1526), stars(1767, 1085.6)],
  },
];

const SCATTERS: ScatterSpec[] = [
  {
    rect: { x: 0, y: 1600, w: 490, h: 484 },
    plot: { l: 96.7, t: 1610, r: 461, b: 1983 },
    core: NK_CORE, points: NK_POINTS, fit: NK_FIT, band: NK_BAND,
    ticks: NK_TICKS, decimals: 2, xmin: -0.035, xmax: 3.877, ymin: 0.294, ymax: 0.528,
    yTitle: YT("Enrichment of NK cells", 16, 1796), xTitleX: 278, xTitleY: 2038,
    note: "R = \u22120.339", noteX: 450, noteY: 1913,
  },
  {
    rect: { x: 495, y: 1600, w: 490, h: 484 },
    plot: { l: 598.3, t: 1609.5, r: 962.7, b: 1982.4 },
    core: CD8_CORE, points: CD8_POINTS, fit: CD8_FIT, band: CD8_BAND,
    ticks: CD8_TICKS, decimals: 2, xmin: -0.032, xmax: 3.873, ymin: 0.3733, ymax: 0.6055,
    yTitle: YT("Enrichment of CD8 T cells", 517, 1795.5), xTitleX: 780, xTitleY: 2037.6,
    note: "R = \u22120.314", noteX: 951, noteY: 1912,
  },
  {
    rect: { x: 1000, y: 1585, w: 485, h: 499 },
    plot: { l: 1098, t: 1591.8, r: 1473.3, b: 1964.7 },
    core: MAC_CORE, points: MAC_POINTS, fit: MAC_FIT, band: MAC_BAND,
    ticks: MAC_TICKS, decimals: 1, xmin: -0.028, xmax: 3.873, ymin: 0.2823, ymax: 0.662,
    yTitle: YT("Enrichment of Macrophages", 1029, 1778), xTitleX: 1285, xTitleY: 2020,
    note: "R = \u22120.131", noteX: 1461.7, noteY: 1894,
  },
  {
    rect: { x: 1490, y: 1585, w: 475, h: 499 },
    plot: { l: 1580.7, t: 1595, r: 1956, b: 1968.7 },
    core: PDC_CORE, points: PDC_POINTS, fit: PDC_FIT, band: PDC_BAND,
    ticks: PDC_TICKS, decimals: 1, xmin: -0.027, xmax: 3.87, ymin: 0.28, ymax: 0.81,
    yTitle: YT("Enrichment of pDC", 1511.7, 1782.5), xTitleX: 1767, xTitleY: 2024,
    note: "R = \u22120.351", noteX: 1944, noteY: 1898,
  },
];

const LETTERS: [string, number, number, number][] = [
  ["A", 195, 96, 60],
  ["B", 21.5, 1086, 56],
  ["C", 501.5, 1086, 56],
  ["D", 1013, 1086, 56],
  ["E", 1491, 1087, 56],
  ["F", 12.5, 1601, 56],
  ["G", 508.5, 1601, 56],
  ["H", 1022, 1601, 56],
  ["I", 1485, 1601, 56],
];

const Panel: React.FC<{ rect: Rect; build: () => any }> = ({ rect, build }) => {
  const ref = useRef<HTMLCanvasElement | null>(null);
  useEffect(() => {
    if (!ref.current) return;
    const chart = new Chart(ref.current, build());
    return () => chart.destroy();
  }, []);
  return (
    <canvas
      ref={ref}
      width={rect.w}
      height={rect.h}
      style={{ position: "absolute", left: rect.x, top: rect.y, width: rect.w, height: rect.h }}
    />
  );
};

export default function App() {
  return (
    <div style={{ position: "absolute", left: 0, top: 0, width: 1965, height: 2084, background: "#fff", overflow: "hidden" }}>
      <Panel rect={A_RECT} build={() => overviewConfig(A_RECT, A_PLOT)} />
      {BOXES.map((s, i) => (
        <Panel key={`b${i}`} rect={s.rect} build={() => boxConfig(s)} />
      ))}
      {SCATTERS.map((s, i) => (
        <Panel key={`s${i}`} rect={s.rect} build={() => scatterConfig(s)} />
      ))}
      {LETTERS.map(([t, x, base, size]) => (
        <div
          key={t}
          style={{
            position: "absolute",
            left: x,
            top: base - 0.8465 * size,
            fontFamily: '"Liberation Sans"',
            fontWeight: 700,
            fontSize: size,
            lineHeight: `${size}px`,
          }}
        >
          {t}
        </div>
      ))}
    </div>
  );
}
